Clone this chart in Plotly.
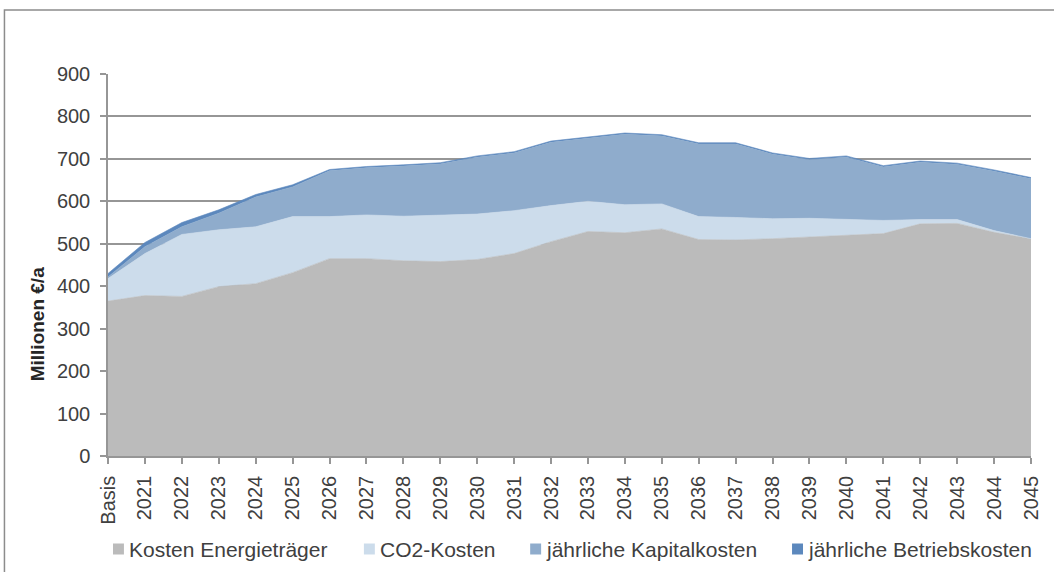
import plotly.graph_objects as go

# Kategorien (Basisjahr + Szenariojahre)
jahre = ["Basis"] + [str(j) for j in range(2021, 2046)]

# Kostenbestandteile in Millionen €/a
kosten_energietraeger = [365, 378, 376, 399, 406, 432, 465, 465, 460, 458, 463, 477, 505,
                         529, 526, 535, 510, 509, 512, 516, 521, 524, 547, 548, 527, 512]
co2_kosten = [53, 99, 146, 134, 134, 132, 99, 103, 105, 110, 107, 101, 85,
              71, 66, 59, 54, 53, 47, 44, 36, 31, 10, 9, 4, 0]
kapitalkosten = [4, 16, 18, 39, 70, 70, 108, 111, 118, 120, 134, 136, 149,
                 149, 166, 160, 171, 173, 152, 138, 147, 126, 135, 130, 140, 141]
betriebskosten = [8, 10, 10, 8, 6, 5, 3, 3, 3, 3, 3, 3, 3,
                  3, 3, 3, 3, 3, 3, 3, 3, 3, 3, 3, 3, 3]

namen = ["Kosten Energieträger", "CO2-Kosten", "jährliche Kapitalkosten", "jährliche Betriebskosten"]
farben = ["#BBBBBB", "#CCDCEB", "#8FACCC", "#5C88BD"]
reihen = [kosten_energietraeger, co2_kosten, kapitalkosten, betriebskosten]

FONT = "Liberation Sans, Arial, sans-serif"
TEXT = "#404040"
GRID = "#969696"

fig = go.Figure()
for name, farbe, werte in zip(namen, farben, reihen):
    fig.add_trace(go.Scatter(
        x=jahre, y=werte, name=name, mode="lines", stackgroup="kosten",
        line=dict(color=farbe, width=0.6), fillcolor=farbe, showlegend=False,
    ))

# Plotbereich in Pixeln
W, H = 1054, 572
L, R, T, B = 108, 19, 74, 116
pw, ph = W - L - R, H - T - B

def px_x(x):
    return (x - L) / pw

def px_y(y):
    return (H - B - y) / ph

shapes = []
annotations = []

# Legende unten
legend_x = [113, 365, 532, 795]
legend_y = 549
sq = 11
for xs, name, farbe in zip(legend_x, namen, farben):
    shapes.append(dict(type="rect", xref="paper", yref="paper",
                       x0=px_x(xs), x1=px_x(xs + sq),
                       y0=px_y(legend_y + sq / 2), y1=px_y(legend_y - sq / 2),
                       fillcolor=farbe, line=dict(width=0)))
    annotations.append(dict(text=name, xref="paper", yref="paper",
                            x=px_x(xs + sq + 3), y=px_y(legend_y), xanchor="left", yanchor="middle",
                            showarrow=False, font=dict(family=FONT, size=21, color=TEXT)))

# Achsentitel
annotations.append(dict(text="<b>Millionen €/a</b>", xref="paper", yref="paper",
                        x=px_x(37), y=px_y(324), xanchor="center", yanchor="middle",
                        textangle=-90, showarrow=False,
                        font=dict(family=FONT, size=19, color="#262626")))

# Rahmen um das Diagramm
shapes.append(dict(type="rect", xref="paper", yref="paper",
                   x0=px_x(4), x1=px_x(1062), y0=px_y(590), y1=px_y(10),
                   line=dict(color="#8C8C8C", width=1.5), fillcolor="rgba(0,0,0,0)", layer="below"))

fig.update_layout(
    width=W, height=H,
    margin=dict(l=L, r=R, t=T, b=B),
    paper_bgcolor="white", plot_bgcolor="white",
    font=dict(family=FONT, color=TEXT),
    showlegend=False,
    shapes=shapes, annotations=annotations,
)
fig.update_xaxes(
    type="category", range=[0, len(jahre) - 1],
    tickangle=-90, tickfont=dict(size=20, color=TEXT, family=FONT),
    ticklabelstandoff=4,
    showline=True, linecolor=GRID, linewidth=1.5,
    ticks="outside", ticklen=6, tickcolor=GRID, tickwidth=1.5,
    showgrid=False, zeroline=False,
)
fig.update_yaxes(
    range=[0, 900], dtick=100, tick0=0,
    tickfont=dict(size=20, color=TEXT, family=FONT),
    ticklabelstandoff=6,
    showline=True, linecolor=GRID, linewidth=1.5,
    ticks="outside", ticklen=6, tickcolor=GRID, tickwidth=1.5,
    showgrid=True, gridcolor=GRID, gridwidth=1.5, zeroline=False,
)

fig.write_html("out.html")
